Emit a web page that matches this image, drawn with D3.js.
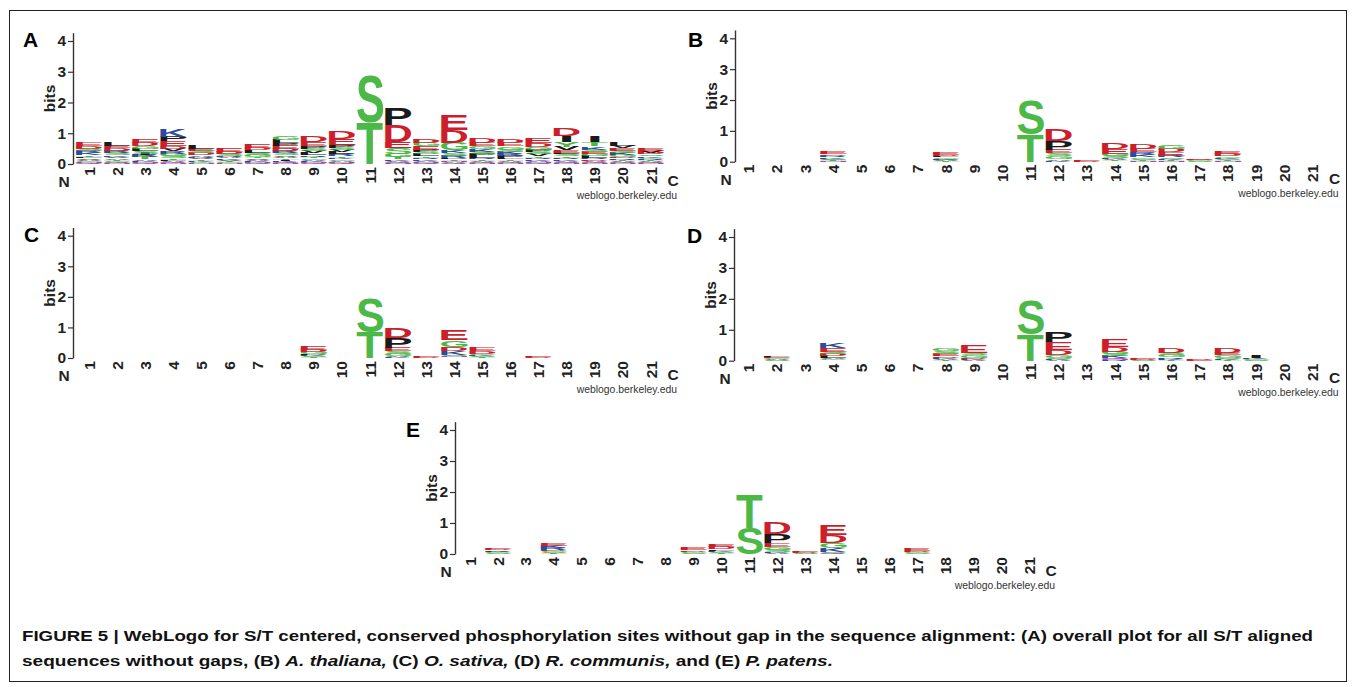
<!DOCTYPE html>
<html>
<head>
<meta charset="utf-8">
<script src="https://cdn.jsdelivr.net/npm/d3@7"></script>
<style>
body { margin: 0; background: #fff; }
svg text { font-family: "Liberation Sans", Arial, Helvetica, sans-serif; }
</style>
</head>
<body>
<svg id="fig" width="1355" height="687"></svg>
<script>
// sequence positions (x tick labels) and bit ticks
var positions = [1,2,3,4,5,6,7,8,9,10,11,12,13,14,15,16,17,18,19,20,21];
var bitTicks = [0, 1, 2, 3, 4];

// each stack: [letter, bits] from bottom to top
var logoA = [
  [["Q",0.03],["N",0.03],["G",0.04],["A",0.04],["V",0.05],["L",0.05],["T",0.05],["K",0.06],["R",0.06],["S",0.08],["D",0.09],["E",0.11]],
  [["N",0.03],["Q",0.03],["G",0.04],["T",0.04],["A",0.05],["V",0.05],["K",0.05],["S",0.07],["R",0.07],["D",0.08],["E",0.09],["L",0.1]],
  [["Q",0.03],["N",0.03],["K",0.05],["A",0.05],["T",0.06],["R",0.06],["I",0.06],["S",0.07],["L",0.08],["G",0.09],["D",0.1],["E",0.12]],
  [["N",0.03],["Q",0.03],["A",0.04],["L",0.04],["T",0.05],["S",0.06],["G",0.08],["R",0.08],["V",0.08],["D",0.09],["E",0.15],["P",0.16],["K",0.24]],
  [["N",0.03],["G",0.04],["K",0.04],["T",0.04],["V",0.04],["R",0.05],["A",0.05],["D",0.06],["S",0.07],["E",0.08],["L",0.1]],
  [["N",0.03],["G",0.03],["T",0.04],["V",0.04],["K",0.04],["A",0.04],["R",0.05],["S",0.06],["D",0.06],["E",0.12]],
  [["Q",0.03],["N",0.03],["K",0.04],["A",0.04],["V",0.05],["T",0.05],["G",0.06],["S",0.07],["L",0.07],["D",0.08],["E",0.1]],
  [["N",0.03],["Q",0.03],["K",0.04],["I",0.04],["T",0.05],["A",0.05],["V",0.05],["S",0.06],["R",0.06],["D",0.08],["E",0.1],["P",0.1],["L",0.1],["G",0.12]],
  [["Q",0.03],["N",0.03],["K",0.04],["A",0.04],["G",0.05],["T",0.05],["R",0.05],["L",0.06],["V",0.06],["S",0.08],["P",0.09],["E",0.14],["D",0.19]],
  [["Q",0.03],["N",0.04],["A",0.04],["G",0.05],["K",0.05],["T",0.05],["R",0.06],["L",0.06],["V",0.07],["S",0.08],["P",0.1],["E",0.19],["D",0.25]],
  [["T",1.35],["S",1.52]],
  [["N",0.03],["Q",0.03],["A",0.04],["K",0.05],["T",0.06],["G",0.12],["S",0.2],["E",0.2],["D",0.54],["P",0.56]],
  [["Q",0.03],["N",0.03],["A",0.04],["K",0.05],["R",0.05],["T",0.05],["L",0.06],["S",0.08],["P",0.08],["E",0.1],["G",0.11],["D",0.14]],
  [["Q",0.03],["A",0.04],["N",0.04],["T",0.05],["P",0.05],["R",0.06],["S",0.08],["K",0.1],["G",0.24],["D",0.4],["E",0.5]],
  [["N",0.03],["Q",0.03],["A",0.04],["T",0.05],["R",0.05],["L",0.06],["P",0.06],["S",0.07],["K",0.09],["G",0.1],["E",0.11],["D",0.15]],
  [["N",0.03],["Q",0.03],["A",0.04],["T",0.05],["L",0.05],["P",0.06],["R",0.06],["K",0.07],["S",0.08],["G",0.1],["E",0.11],["D",0.12]],
  [["Q",0.03],["N",0.03],["A",0.04],["K",0.05],["R",0.05],["T",0.05],["V",0.06],["S",0.07],["P",0.07],["G",0.09],["D",0.13],["E",0.17]],
  [["N",0.03],["Q",0.03],["A",0.04],["K",0.05],["R",0.05],["T",0.05],["S",0.06],["L",0.06],["E",0.08],["V",0.1],["Y",0.15],["I",0.2],["D",0.23]],
  [["N",0.03],["Q",0.03],["A",0.04],["D",0.05],["R",0.05],["L",0.06],["G",0.06],["E",0.07],["S",0.08],["K",0.1],["T",0.14],["I",0.2]],
  [["N",0.03],["Q",0.03],["A",0.04],["T",0.04],["R",0.05],["D",0.05],["G",0.06],["K",0.06],["S",0.07],["E",0.08],["V",0.08],["L",0.1]],
  [["N",0.03],["Q",0.03],["A",0.03],["T",0.04],["R",0.04],["G",0.04],["K",0.05],["S",0.05],["D",0.06],["V",0.06],["E",0.08]]
];

var logoB = [
  [], [], [],
  [["N",0.02],["T",0.02],["G",0.02],["S",0.03],["K",0.05],["R",0.05],["D",0.05],["E",0.09]],
  [], [], [],
  [["T",0.02],["A",0.02],["S",0.03],["K",0.03],["G",0.04],["L",0.04],["D",0.05],["E",0.07]],
  [], [],
  [["T",0.88],["S",1.1]],
  [["K",0.03],["A",0.04],["G",0.1],["S",0.1],["E",0.12],["P",0.28],["D",0.35]],
  [["D",0.02],["E",0.03]],
  [["Q",0.02],["T",0.03],["A",0.03],["K",0.05],["S",0.06],["G",0.07],["E",0.16],["D",0.2]],
  [["N",0.02],["T",0.03],["S",0.04],["G",0.05],["K",0.08],["R",0.08],["E",0.1],["D",0.15]],
  [["N",0.02],["T",0.03],["K",0.04],["S",0.05],["R",0.06],["E",0.1],["D",0.12],["G",0.13]],
  [["S",0.02],["G",0.02],["D",0.03],["E",0.05]],
  [["N",0.02],["T",0.03],["S",0.03],["K",0.04],["G",0.05],["D",0.07],["E",0.09]],
  [], [], []
];

var logoC = [
  [], [], [], [], [], [], [], [],
  [["T",0.02],["S",0.03],["K",0.04],["P",0.05],["G",0.06],["D",0.07],["E",0.1]],
  [],
  [["T",0.85],["S",1.1]],
  [["K",0.03],["A",0.03],["G",0.08],["S",0.08],["E",0.1],["P",0.33],["D",0.35]],
  [["D",0.02],["E",0.03]],
  [["Q",0.02],["N",0.03],["S",0.05],["K",0.13],["D",0.14],["G",0.22],["E",0.32]],
  [["T",0.02],["S",0.03],["K",0.04],["G",0.05],["D",0.08],["E",0.11]],
  [],
  [["D",0.02],["E",0.04]],
  [], [], [], []
];

var logoD = [
  [],
  [["S",0.02],["A",0.03],["G",0.03],["E",0.03],["L",0.04]],
  [],
  [["Q",0.02],["G",0.03],["A",0.04],["L",0.06],["D",0.06],["S",0.08],["E",0.13],["K",0.16]],
  [], [], [],
  [["T",0.02],["A",0.03],["K",0.04],["D",0.05],["E",0.08],["S",0.08],["G",0.1]],
  [["A",0.02],["K",0.03],["D",0.05],["G",0.07],["S",0.08],["E",0.25]],
  [],
  [["T",0.85],["S",1.1]],
  [["A",0.02],["K",0.03],["S",0.05],["G",0.08],["D",0.17],["E",0.24],["P",0.35]],
  [],
  [["R",0.02],["N",0.03],["Q",0.03],["K",0.06],["S",0.06],["G",0.09],["D",0.15],["E",0.25]],
  [["S",0.02],["D",0.03],["E",0.05]],
  [["T",0.02],["K",0.04],["R",0.05],["G",0.06],["S",0.07],["D",0.15]],
  [["E",0.02],["D",0.03]],
  [["T",0.02],["K",0.03],["S",0.05],["G",0.07],["E",0.07],["D",0.15]],
  [["S",0.02],["G",0.03],["K",0.03],["I",0.07]],
  [], []
];

var logoE = [
  [],
  [["S",0.02],["G",0.03],["K",0.03],["A",0.04],["D",0.04],["E",0.04]],
  [],
  [["T",0.02],["S",0.03],["G",0.04],["D",0.05],["R",0.06],["K",0.06],["E",0.06]],
  [], [], [], [],
  [["S",0.03],["G",0.04],["D",0.05],["E",0.08]],
  [["T",0.03],["S",0.04],["K",0.04],["L",0.05],["D",0.06],["E",0.08]],
  [["S",0.85],["T",1.1]],
  [["A",0.03],["K",0.03],["S",0.08],["G",0.1],["E",0.1],["P",0.3],["D",0.37]],
  [["S",0.02],["D",0.03],["E",0.05]],
  [["Q",0.02],["S",0.04],["K",0.13],["G",0.17],["D",0.26],["E",0.32]],
  [], [],
  [["S",0.02],["G",0.03],["D",0.04],["E",0.06]],
  [], [], [], []
];

var captionLine1 = "FIGURE 5 | WebLogo for S/T centered, conserved phosphorylation sites without gap in the sequence alignment: (A) overall plot for all S/T aligned";
var captionLine2 = [
  ["sequences without gaps, (B) ", false], ["A. thaliana,", true], [" (C) ", false], ["O. sativa,", true],
  [" (D) ", false], ["R. communis,", true], [" and (E) ", false], ["P. patens.", true]
];

// weblogo "auto" protein colours
var red = "#cc1f2b", green = "#4cb848", blue = "#2c4a9f", purple = "#a04aa8", black = "#1a1a1a";
var letterColor = { D: red, E: red, K: blue, R: blue, H: blue,
  S: green, T: green, G: green, Y: green, C: green, N: purple, Q: purple };

var panels = [
  { name: "A", data: logoA, axisX: 73,  x0: 75,    x1: 665,    y0: 164,   y4: 41,    lx: 23,  ly: 47 },
  { name: "B", data: logoB, axisX: 735, x0: 734.5, x1: 1326.5, y0: 161.7, y4: 38.3,  lx: 688, ly: 47 },
  { name: "C", data: logoC, axisX: 73,  x0: 75,    x1: 665,    y0: 358,   y4: 235.7, lx: 24,  ly: 241.5 },
  { name: "D", data: logoD, axisX: 734, x0: 734.5, x1: 1326.5, y0: 360.7, y4: 237,   lx: 687, ly: 243 },
  { name: "E", data: logoE, axisX: 455, x0: 456,   x1: 1043,   y0: 554,   y4: 430,   lx: 406, ly: 437 }
];

var svg = d3.select("#fig");

// frame
svg.append("rect").attr("x", 9.5).attr("y", 10.5).attr("width", 1337).attr("height", 671)
  .attr("fill", "none").attr("stroke", "#222").attr("stroke-width", 1);

// ink boxes of glyphs, so letters can be stretched to their stack cells
var ctx = document.createElement("canvas").getContext("2d");
ctx.font = "bold 100px 'Liberation Sans'";
var inkCache = {};
function ink(ch) {
  if (!inkCache[ch]) {
    var m = ctx.measureText(ch);
    inkCache[ch] = { l: m.actualBoundingBoxLeft, r: m.actualBoundingBoxRight,
      a: m.actualBoundingBoxAscent, d: m.actualBoundingBoxDescent };
  }
  return inkCache[ch];
}

panels.forEach(function(p) {
  var pxPerBit = (p.y0 - p.y4) / 4;
  var y = d3.scaleLinear().domain([0, 4.27]).range([p.y0, p.y0 - 4.27 * pxPerBit]);
  var x = d3.scaleBand().domain(positions).range([p.x0, p.x1]).padding(0);
  var g = svg.append("g");

  // panel letter
  g.append("text").attr("x", p.lx).attr("y", p.ly).text(p.name)
    .attr("font-size", 21).attr("font-weight", "bold").attr("fill", "#000");

  // y axis
  var ya = g.append("g").attr("transform", "translate(" + p.axisX + ",0)")
    .call(d3.axisLeft(y).tickValues(bitTicks).tickFormat(d3.format("d"))
      .tickSize(5).tickSizeOuter(0).tickPadding(2));
  ya.select(".domain").attr("stroke", "#333").attr("stroke-width", 1.4);
  ya.selectAll(".tick line").attr("stroke", "#333").attr("stroke-width", 1.2);
  ya.selectAll("text").attr("font-size", 15.5).attr("font-weight", "bold").attr("fill", "#222");

  g.append("text").attr("transform", "translate(" + (p.axisX - 18) + "," + (y(2) - 4) + ") rotate(-90)")
    .attr("text-anchor", "middle").attr("font-size", 15.5).attr("font-weight", "bold").attr("fill", "#222")
    .text("bits");

  // x axis (rotated position numbers)
  var xa = g.append("g").attr("transform", "translate(0," + p.y0 + ")")
    .call(d3.axisBottom(x).tickSize(0));
  xa.select(".domain").remove();
  xa.selectAll("text").attr("transform", "rotate(-90)").attr("x", -3).attr("y", 0).attr("dy", "0.36em")
    .attr("text-anchor", "end").attr("font-size", 15.5).attr("font-weight", "bold").attr("fill", "#222");

  g.append("text").attr("x", p.axisX - 9).attr("y", p.y0 + 23).attr("text-anchor", "middle")
    .attr("font-size", 15.5).attr("font-weight", "bold").attr("fill", "#222").text("N");
  g.append("text").attr("x", p.x1 + 8).attr("y", p.y0 + 22).attr("text-anchor", "middle")
    .attr("font-size", 15.5).attr("font-weight", "bold").attr("fill", "#222").text("C");
  g.append("text").attr("x", p.x1 + 12).attr("y", p.y0 + 35).attr("text-anchor", "end")
    .attr("font-size", 10.4).attr("fill", "#333").text("weblogo.berkeley.edu");

  // letter stacks
  var cells = [];
  p.data.forEach(function(stack, i) {
    var cum = 0;
    stack.forEach(function(d) {
      cells.push({ pos: positions[i], ch: d[0], lo: cum, hi: cum + d[1] });
      cum += d[1];
    });
  });
  var bw = x.bandwidth();
  g.append("g").selectAll("text").data(cells).join("text")
    .attr("font-size", 100).attr("font-weight", "bold")
    .attr("fill", function(d) { return letterColor[d.ch] || black; })
    .attr("transform", function(d) {
      var m = ink(d.ch);
      var w = d.ch === "I" ? bw * 0.35 : bw * 0.94;
      var left = x(d.pos) + (bw - w) / 2;
      var bottom = y(d.lo), top = y(d.hi);
      var sx = w / (m.l + m.r), sy = (bottom - top) / (m.a + m.d);
      return "translate(" + left + "," + bottom + ") scale(" + sx + "," + sy + ") translate(" + m.l + "," + (-m.d) + ")";
    })
    .text(function(d) { return d.ch; });
});

// caption
var cap = svg.append("g").attr("font-weight", "bold").attr("font-size", 15).attr("fill", "#111");
cap.append("text").attr("x", 22).attr("y", 641).attr("textLength", 1291).attr("lengthAdjust", "spacingAndGlyphs")
  .text(captionLine1);
var l2 = cap.append("text").attr("x", 22).attr("y", 666).attr("textLength", 811).attr("lengthAdjust", "spacingAndGlyphs");
captionLine2.forEach(function(s) {
  l2.append("tspan").attr("font-style", s[1] ? "italic" : "normal").text(s[0]);
});
</script>
</body>
</html>
